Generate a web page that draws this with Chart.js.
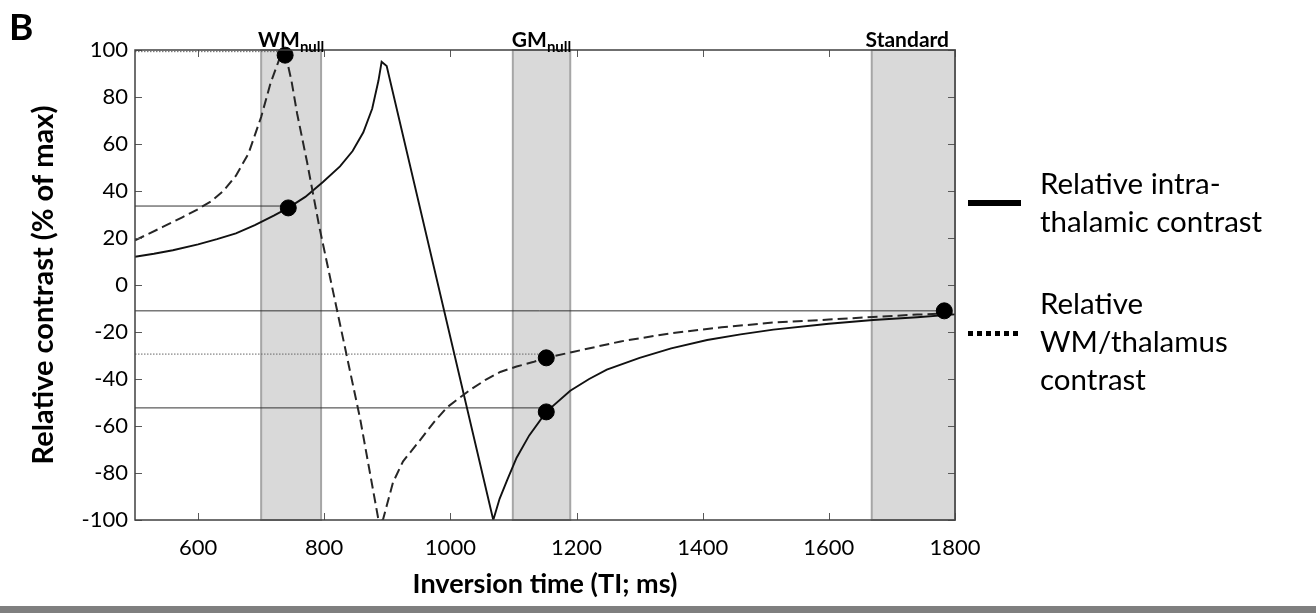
<!DOCTYPE html>
<html>
<head>
<meta charset="utf-8">
<script src="https://cdn.jsdelivr.net/npm/chart.js@4.4.1/dist/chart.umd.min.js"></script>
<style>
  html, body { margin: 0; padding: 0; background: #fff; }
  #wrap { position: relative; width: 1316px; height: 613px; }
</style>
</head>
<body>
<div id="wrap"><canvas id="contrast_chart" width="1316" height="613"></canvas></div>
<script>
// solid curve: relative intra-thalamic contrast
var intraTI = [500, 530, 560, 600, 630, 660, 690, 720, 743, 770, 798, 825, 845, 862, 876, 886, 891, 899,
               1068, 1078, 1090, 1105, 1125, 1152, 1190, 1220, 1248, 1300, 1350, 1407, 1460, 1512, 1600, 1670, 1740, 1800];
var intraContrast = [12, 13.3, 14.8, 17.3, 19.5, 22, 25.5, 29.5, 32.8, 37.5, 43.8, 50.5, 57, 65, 75, 87, 95, 93.2,
                     -100, -91, -83, -73.5, -64, -54, -45, -40, -36, -31, -27, -23.4, -21, -19, -16.5, -14.9, -13.7, -12.5];

// dashed curve: relative WM/thalamus contrast
var wmTI = [500, 544, 575, 598, 620, 640, 660, 680, 700, 715, 728, 738, 748, 757, 773, 792, 857, 886, 893, 900,
            909, 925, 952, 975, 995, 1031, 1055, 1079, 1105, 1131, 1152, 1194, 1270, 1353, 1430, 1511, 1600, 1670, 1740, 1800];
var wmContrast = [19, 24.7, 28.8, 32, 35.5, 40, 46.5, 56, 71.5, 86, 95.5, 99, 87, 73, 52, 25, -57, -100, -100, -93,
                  -84, -75, -66, -58, -52, -44.7, -40.5, -37, -34.7, -32.8, -31, -28.5, -24, -20.4, -18, -16, -14.7, -13.6, -12.6, -12];

// highlighted points and the guide lines running to them from the y axis
var markerTI = [738, 743, 1152, 1152, 1783];
var markerContrast = [97.8, 32.8, -31, -54, -11];
var guideContrast = [99.3, 33.6, -29.4, -52.3, -11];
var guideDotted = [true, false, true, false, false];

// shaded TI windows
var bandStart = [700, 1099, 1668];
var bandEnd = [795, 1190, 1800];
var bandName = ["WM", "GM", "Standard"];
var bandSub = ["null", "null", ""];

var xTicks = [600, 800, 1000, 1200, 1400, 1600, 1800];
var yTicks = [-100, -80, -60, -40, -20, 0, 20, 40, 60, 80, 100];

var legendLabels = [["Relative intra-", "thalamic contrast"], ["Relative", "WM/thalamus", "contrast"]];

var FONT = "Lato, 'Open Sans', sans-serif";

function pairs(xs, ys) {
    return xs.map(function (v, i) { return { x: v, y: ys[i] }; });
}

var datasets = [];
datasets.push({
    label: legendLabels[0].join(" "),
    data: pairs(intraTI, intraContrast),
    showLine: true, borderColor: "#111", borderWidth: 1.9,
    pointRadius: 0, tension: 0, order: 3
});
datasets.push({
    label: legendLabels[1].join(" "),
    data: pairs(wmTI, wmContrast),
    showLine: true, borderColor: "#262626", borderWidth: 2, borderDash: [10, 5],
    pointRadius: 0, tension: 0, order: 2
});
guideContrast.forEach(function (g, i) {
    datasets.push({
        label: "guide" + i,
        data: [{ x: 500, y: g }, { x: markerTI[i], y: g }],
        showLine: true, borderColor: guideDotted[i] ? "#666" : "#333",
        borderWidth: 1, borderDash: guideDotted[i] ? [1.5, 1.5] : [],
        pointRadius: 0, order: 4
    });
});
datasets.push({
    label: "markers",
    data: pairs(markerTI, markerContrast),
    showLine: false, pointRadius: 8, pointHoverRadius: 8,
    pointBackgroundColor: "#000", pointBorderColor: "#000", clip: false, order: 0
});

var bandPlugin = {
    id: "bands",
    beforeDatasetsDraw: function (chart) {
        var ctx = chart.ctx, a = chart.chartArea, x = chart.scales.x;
        ctx.save();
        for (var i = 0; i < bandStart.length; i++) {
            var x0 = x.getPixelForValue(bandStart[i]), x1 = x.getPixelForValue(bandEnd[i]);
            ctx.fillStyle = "#d9d9d9";
            ctx.fillRect(x0, a.top, x1 - x0, a.bottom - a.top);
            ctx.strokeStyle = "#a6a6a6";
            ctx.lineWidth = 2;
            ctx.strokeRect(x0, a.top, x1 - x0, a.bottom - a.top);
        }
        ctx.restore();
    }
};

var framePlugin = {
    id: "frame",
    afterDraw: function (chart) {
        var ctx = chart.ctx, a = chart.chartArea, xs = chart.scales.x, ys = chart.scales.y;
        ctx.save();
        // inward tick marks on all four sides
        ctx.strokeStyle = "#595959";
        ctx.lineWidth = 1;
        ctx.beginPath();
        yTicks.forEach(function (v) {
            var py = Math.round(ys.getPixelForValue(v)) + 0.5;
            ctx.moveTo(a.left, py); ctx.lineTo(a.left + 7, py);
            ctx.moveTo(a.right, py); ctx.lineTo(a.right - 7, py);
        });
        xTicks.forEach(function (v) {
            var px = Math.round(xs.getPixelForValue(v)) + 0.5;
            ctx.moveTo(px, a.bottom); ctx.lineTo(px, a.bottom - 7);
            ctx.moveTo(px, a.top); ctx.lineTo(px, a.top + 7);
        });
        ctx.stroke();
        ctx.strokeStyle = "#404040";
        ctx.lineWidth = 1.5;
        ctx.strokeRect(a.left, a.top, a.right - a.left, a.bottom - a.top);

        // window labels above the plot
        ctx.fillStyle = "#000";
        ctx.textBaseline = "alphabetic";
        ctx.textAlign = "left";
        for (var i = 0; i < bandName.length; i++) {
            var cx = (xs.getPixelForValue(bandStart[i]) + xs.getPixelForValue(bandEnd[i])) / 2;
            ctx.font = "bold 21px " + FONT;
            var w1 = ctx.measureText(bandName[i]).width;
            ctx.font = "bold 15px " + FONT;
            var w2 = bandSub[i] ? ctx.measureText(bandSub[i]).width : 0;
            var left = Math.min(cx - (w1 + w2) / 2, a.right - 6 - (w1 + w2));
            ctx.font = "bold 21px " + FONT;
            ctx.fillText(bandName[i], left, a.top - 3);
            if (bandSub[i]) {
                ctx.font = "bold 15px " + FONT;
                ctx.fillText(bandSub[i], left + w1, a.top + 2);
            }
        }

        // panel letter
        ctx.font = "bold 37px " + FONT;
        ctx.fillText("B", 9, 40);

        // legend
        var lx = 968;
        ctx.fillRect(lx, 200, 53, 6);
        for (var k = 0; k < 6; k++) {
            ctx.fillRect(lx + k * 9, 331, 5, 5);
        }
        ctx.font = "29.5px " + FONT;
        var tops = [194, 314];
        legendLabels.forEach(function (lines, j) {
            lines.forEach(function (t, n) {
                ctx.fillText(t, 1040, tops[j] + n * 38);
            });
        });

        // grey rule along the bottom edge
        ctx.fillStyle = "#7f7f7f";
        ctx.fillRect(0, 606, chart.width, 7);
        ctx.restore();
    }
};

new Chart(document.getElementById("contrast_chart").getContext("2d"), {
    type: "scatter",
    data: { datasets: datasets },
    options: {
        responsive: false,
        animation: false,
        events: [],
        layout: { padding: { left: 0, top: 50, right: 361, bottom: 7 } },
        plugins: { legend: { display: false }, tooltip: { enabled: false } },
        scales: {
            x: {
                type: "linear", min: 500, max: 1800,
                grid: { display: false, drawTicks: false },
                border: { display: false },
                afterBuildTicks: function (s) { s.ticks = xTicks.map(function (v) { return { value: v }; }); },
                afterFit: function (s) { s.height = 86; },
                ticks: { padding: 15, color: "#000", font: { family: FONT, size: 22 },
                         callback: function (v) { return String(v); } },
                title: { display: true, text: "Inversion time (TI; ms)", color: "#000",
                         padding: { top: 0, bottom: 6 }, font: { family: FONT, size: 27, weight: "bold" } }
            },
            y: {
                min: -100, max: 100,
                grid: { display: false, drawTicks: false },
                border: { display: false },
                afterBuildTicks: function (s) { s.ticks = yTicks.map(function (v) { return { value: v }; }); },
                afterFit: function (s) { s.width = 135; },
                ticks: { padding: 7, color: "#000", font: { family: FONT, size: 22 },
                         callback: function (v) { return String(v); } },
                title: { display: true, text: "Relative contrast (% of max)", color: "#000",
                         padding: { top: 26, bottom: 0 }, font: { family: FONT, size: 29, weight: "bold" } }
            }
        }
    },
    plugins: [bandPlugin, framePlugin]
});
</script>
</body>
</html>
